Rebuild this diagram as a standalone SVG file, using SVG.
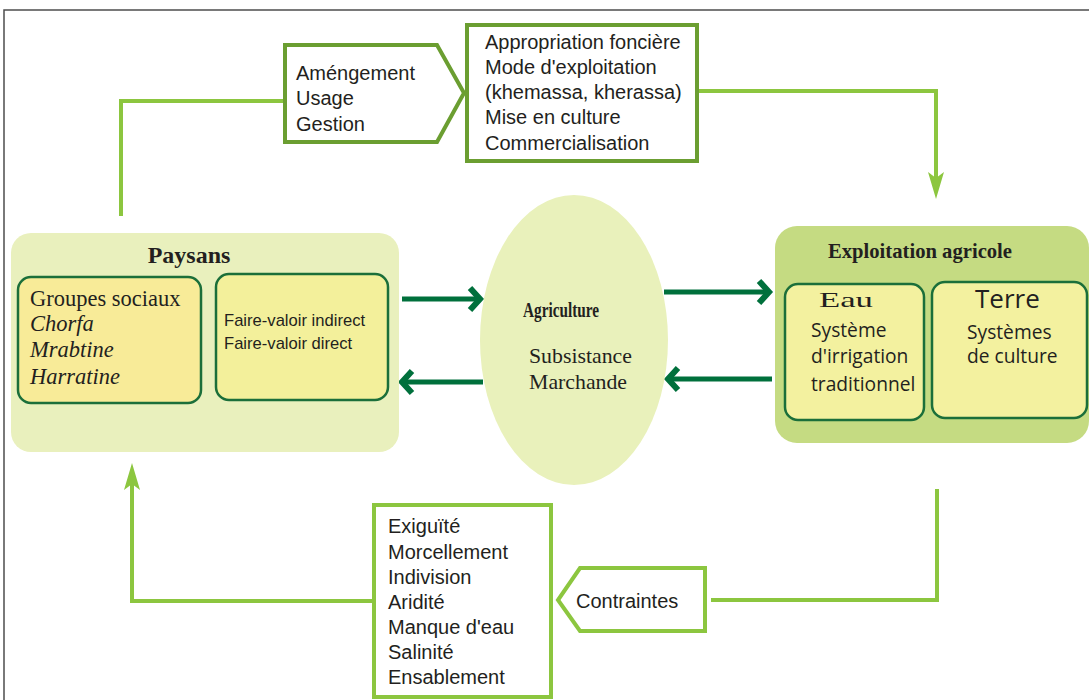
<svg xmlns="http://www.w3.org/2000/svg" width="1089" height="700" viewBox="0 0 1089 700">
<style>
.sans{font-family:"Liberation Sans",Arial,sans-serif;font-size:20px;fill:#231f20}
.sans2{font-family:"Liberation Sans",Arial,sans-serif;font-size:16.6px;fill:#231f20}
.open{font-family:"Open Sans","Noto Sans",sans-serif;font-size:19.2px;fill:#231f20}
.big{font-size:26px}
.serif{font-family:"Liberation Serif","Times New Roman",serif;fill:#231f20}
.dk{fill:#fff;stroke:#6b9e31;stroke-width:4}
.lt{fill:#fff;stroke:#8cc63f;stroke-width:4}
.inner{stroke:#1b6f3a;stroke-width:2.5}
.lline{fill:none;stroke:#8cc63f;stroke-width:4}
.dline{fill:none;stroke:#00703c;stroke-width:5}
</style>
<defs>
<marker id="chev" markerUnits="userSpaceOnUse" viewBox="-16 -16 24 32" markerWidth="24" markerHeight="32" refX="0" refY="0" orient="auto" overflow="visible">
<path d="M-10,-11 L0,0 L-10,11" fill="none" stroke="#00703c" stroke-width="6"/>
</marker>
<marker id="lhead" markerUnits="userSpaceOnUse" viewBox="-10 -10 32 20" markerWidth="32" markerHeight="20" refX="0" refY="0" orient="auto" overflow="visible">
<path d="M19,0 L-8,-8 L-2,0 L-8,8 Z" fill="#8cc63f"/>
</marker>
</defs>
<rect width="1089" height="700" fill="#fff"/>
<path d="M4,700 L4,10 L1089,10" fill="none" stroke="#4d4d4d" stroke-width="1.5"/>

<g id="connectors">
<polyline class="lline" points="121,216 121,101 285,101"/>
<polyline class="lline" points="699,91 936,91 936,180" marker-end="url(#lhead)"/>
<polyline class="lline" points="937,489 937,600 711,600"/>
<polyline class="lline" points="373,601 132,601 132,482" marker-end="url(#lhead)"/>
<line class="dline" x1="402" y1="299" x2="480" y2="299" marker-end="url(#chev)"/>
<line class="dline" x1="483" y1="382" x2="402" y2="382" marker-end="url(#chev)"/>
<line class="dline" x1="664" y1="292" x2="769" y2="292" marker-end="url(#chev)"/>
<line class="dline" x1="772" y1="379" x2="668" y2="379" marker-end="url(#chev)"/>
</g>

<g id="amenagement">
<polygon class="dk" points="285,45 437,45 464,93 437,142 285,142"/>
<text class="sans" x="296" y="80">Améngement</text>
<text class="sans" x="296" y="105">Usage</text>
<text class="sans" x="296" y="131">Gestion</text>
</g>

<g id="appropriation">
<rect class="dk" x="467" y="25" width="230" height="136"/>
<text class="sans" x="485" y="49">Appropriation foncière</text>
<text class="sans" x="485" y="74">Mode d'exploitation</text>
<text class="sans" x="485" y="99">(khemassa, kherassa)</text>
<text class="sans" x="485" y="124">Mise en culture</text>
<text class="sans" x="485" y="150">Commercialisation</text>
</g>

<g id="paysans">
<rect x="11" y="233" width="388" height="219" rx="20" fill="#e9f0bd"/>
<text class="serif" x="189" y="263" font-size="24" font-weight="bold" text-anchor="middle">Paysans</text>
<rect class="inner" x="18" y="277" width="183" height="126" rx="13" fill="#f8eb98"/>
<text class="serif" x="30" y="306" font-size="22.5">Groupes sociaux</text>
<text class="serif" x="30" y="331" font-size="22.5" font-style="italic">Chorfa</text>
<text class="serif" x="30" y="357" font-size="22.5" font-style="italic">Mrabtine</text>
<text class="serif" x="30" y="384" font-size="22.5" font-style="italic">Harratine</text>
<rect class="inner" x="216" y="274" width="172" height="126" rx="13" fill="#f3f09b"/>
<text class="sans2" x="224" y="326">Faire-valoir indirect</text>
<text class="sans2" x="224" y="349">Faire-valoir direct</text>
</g>

<g id="agriculture">
<ellipse cx="574" cy="340" rx="94" ry="145" fill="#e9f1bb"/>
<text class="serif" x="523" y="317" font-size="21" font-weight="bold" textLength="76" lengthAdjust="spacingAndGlyphs">Agriculture</text>
<text class="serif" x="529" y="363" font-size="21.8">Subsistance</text>
<text class="serif" x="529" y="389" font-size="21.8">Marchande</text>
</g>

<g id="exploitation">
<rect x="775" y="226" width="314" height="217" rx="22" fill="#c5db82"/>
<text class="serif" x="828" y="258" font-size="22" font-weight="bold" textLength="184" lengthAdjust="spacingAndGlyphs">Exploitation agricole</text>
<rect class="inner" x="785" y="284" width="139" height="136" rx="13" fill="#f3f19f"/>
<text class="serif" x="819" y="307" font-size="21" textLength="54" lengthAdjust="spacingAndGlyphs">Eau</text>
<text class="open" x="811" y="337">Système</text>
<text class="open" x="811" y="363">d'irrigation</text>
<text class="open" x="811" y="391">traditionnel</text>
<rect class="inner" x="932" y="282" width="155" height="136" rx="13" fill="#f3f19f"/>
<text class="open big" x="975" y="308">Terre</text>
<text class="open" x="967" y="339">Systèmes</text>
<text class="open" x="967" y="363">de culture</text>
</g>

<g id="contraintes">
<polygon class="lt" points="705,568 580,568 558,600 580,631 705,631"/>
<text class="sans" x="576" y="608">Contraintes</text>
</g>

<g id="constraints-list">
<rect class="lt" x="374" y="505" width="177" height="192"/>
<text class="sans" x="388" y="533">Exiguïté</text>
<text class="sans" x="388" y="559">Morcellement</text>
<text class="sans" x="388" y="584">Indivision</text>
<text class="sans" x="388" y="609">Aridité</text>
<text class="sans" x="388" y="634">Manque d'eau</text>
<text class="sans" x="388" y="659">Salinité</text>
<text class="sans" x="388" y="684">Ensablement</text>
</g>
</svg>
